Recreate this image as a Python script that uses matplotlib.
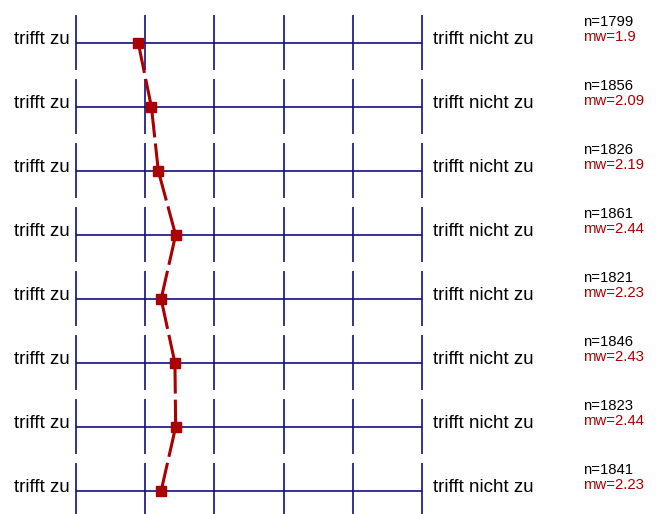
import matplotlib.pyplot as plt

plt.rcParams['font.family'] = ['Liberation Sans', 'DejaVu Sans']

# Daten: Mittelwerte und Fallzahlen je Item (Skala 1..6)
mw = [1.9, 2.09, 2.19, 2.44, 2.23, 2.43, 2.44, 2.23]
n = [1799, 1856, 1826, 1861, 1821, 1846, 1823, 1841]
skala = [1, 2, 3, 4, 5, 6]
links = 'trifft zu'
rechts = 'trifft nicht zu'

navy = '#10107a'
rot = '#aa0000'

fig = plt.figure(figsize=(6.62, 5.14), dpi=100)
ax = fig.add_axes([0, 0, 1, 1])
px = 69.2  # Pixel pro Skalenpunkt
ax.set_xlim(1 - 76 / px, 1 + (662 - 76) / px)
ax.set_ylim((514 - 43) / 64, -43 / 64)
ax.axis('off')

rows = list(range(len(mw)))
for r in rows:
    ax.hlines(r, skala[0], skala[-1], color=navy, lw=1.2)
    ax.vlines(skala, r - 0.44, r + 0.42, color=navy, lw=1.2)
    ax.text(skala[0] - 6 / px, r - 0.06, links, ha='right', va='center', fontsize=13.5)
    ax.text(skala[-1] + 11 / px, r - 0.06, rechts, ha='left', va='center', fontsize=13.5)
    ax.text(1 + (583 - 76) / px, r - 0.33, f'n={n[r]}', ha='left', va='center',
            fontsize=10.7, color='black')
    ax.text(1 + (583 - 76) / px, r - 0.09, f'mw={mw[r]:g}', ha='left', va='center',
            fontsize=10.7, color=rot)

# Verbindungslinie: gestrichelt, Muster beginnt je Abschnitt neu
for i in range(len(mw) - 1):
    ax.plot(mw[i:i + 2], rows[i:i + 2], color=rot, lw=2.2, dashes=(10, 2), zorder=4)
ax.plot(mw, rows, ls='none', marker='s', markersize=7,
        markerfacecolor=rot, markeredgecolor=rot, zorder=5)

plt.savefig('out.png', dpi=100, facecolor='white')
